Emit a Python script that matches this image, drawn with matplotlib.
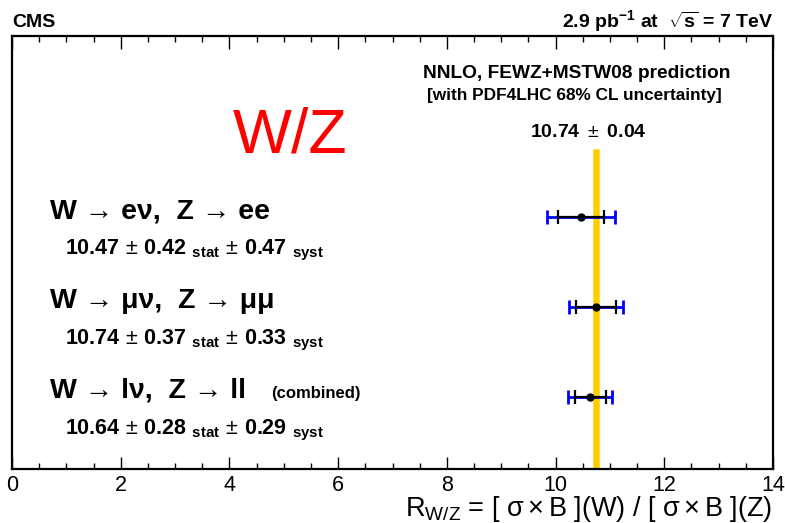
import numpy as np
import matplotlib
matplotlib.use("Agg")
import matplotlib.pyplot as plt

plt.rcParams['font.family'] = ['Liberation Sans', 'DejaVu Sans']
plt.rcParams['mathtext.fontset'] = 'custom'
plt.rcParams['mathtext.rm'] = 'Liberation Sans'
plt.rcParams['mathtext.bf'] = 'Liberation Sans:bold'
plt.rcParams['mathtext.it'] = 'Liberation Sans:italic'
plt.rcParams['mathtext.sf'] = 'Liberation Sans'

# Measured W/Z cross-section ratios per channel
channels = ["W \u2192 e\u03bd,  Z \u2192 ee",
            "W \u2192 \u03bc\u03bd,  Z \u2192 \u03bc\u03bc",
            "W \u2192 l\u03bd,  Z \u2192 ll"]
ratio = [10.47, 10.74, 10.64]
stat_err = [0.42, 0.37, 0.28]
syst_err = [0.47, 0.33, 0.29]
row_y = [2.8, 1.8, 0.8]

# NNLO prediction
theory = 10.74
theory_err = 0.04

xticks = [0, 2, 4, 6, 8, 10, 12, 14]

W, H = 785, 523
fig = plt.figure(figsize=(W / 100, H / 100), dpi=100)
ax = fig.add_axes([12 / W, 1 - 469 / H, 761 / W, 433 / H])
ax.set_xlim(0, 14)
ax.set_ylim(0, 433 / 90)

# theory band
ax.fill_betweenx([0, 3.55], theory - theory_err, theory + theory_err,
                 color='#ffcc00', lw=1.8, edgecolor='#ffcc00', zorder=1)

ratio = np.array(ratio)
stat_err = np.array(stat_err)
syst_err = np.array(syst_err)
tot_err = np.sqrt(stat_err ** 2 + syst_err ** 2)

ax.errorbar(ratio, row_y, xerr=tot_err, fmt='none', ecolor='#0000ff',
            elinewidth=2.0, capsize=4.8, capthick=2.0, zorder=2)
ax.errorbar(ratio, row_y, xerr=stat_err, fmt='o', color='black', ms=5,
            ecolor='black', elinewidth=1.6, capsize=4.8, capthick=1.6, zorder=3)

# axes styling
for s in ax.spines.values():
    s.set_linewidth(1.6)
ax.set_yticks([])
ax.set_xticks(xticks)
ax.set_xticks(np.arange(0, 14.01, 0.5), minor=True)
ax.tick_params(axis='x', which='both', direction='in', top=True, bottom=True,
               labelsize=15.5, pad=4)
ax.tick_params(axis='x', which='major', length=9, width=1.0)
ax.tick_params(axis='x', which='minor', length=4.5, width=1.0)
ax.set_xticklabels([str(v) for v in xticks])

def px(x, y):
    return x / W, 1 - y / H

fig.text(*px(12, 27), "CMS", fontsize=14, fontweight='bold', ha='left', va='baseline')
fig.text(*px(773, 27), r"2.9 pb$^{\mathbf{-1}}$ at  $\mathbf{\sqrt{s}}$ = 7 TeV",
         fontsize=14, fontweight='bold', ha='right', va='baseline')

fig.text(*px(772, 516),
         r"R$_{\mathrm{W/Z}}$ = [ $\mathrm{\sigma \times B}$ ](W) / [ $\mathrm{\sigma \times B}$ ](Z)",
         fontsize=19.5, ha='right', va='baseline')

fig.text(*px(577, 78), "NNLO, FEWZ+MSTW08 prediction", fontsize=13.8,
         fontweight='bold', ha='center', va='baseline')
fig.text(*px(574, 100), "[with PDF4LHC 68% CL uncertainty]", fontsize=12.4,
         fontweight='bold', ha='center', va='baseline')
fig.text(*px(588, 137), r"$\mathbf{%.2f}\ \pm\ \mathbf{%.2f}$" % (theory, theory_err),
         fontsize=14, ha='center', va='baseline')

fig.text(*px(233, 152), "W/Z", fontsize=45, color='red', ha='left', va='baseline')

label_base = [218, 308, 398]
num_base = [254, 344, 434]
for i in range(3):
    fig.text(*px(50, label_base[i]), channels[i], fontsize=20.5, fontweight='bold',
             ha='left', va='baseline')
    fig.text(*px(65, num_base[i]),
             r"$\mathbf{%.2f}\,\pm\,\mathbf{%.2f}\ _{\mathbf{stat}}\,\pm\,\mathbf{%.2f}\ _{\mathbf{syst}}$"
             % (ratio[i], stat_err[i], syst_err[i]),
             fontsize=15.5, ha='left', va='baseline')
fig.text(*px(271, 398), "(combined)", fontsize=12, fontweight='bold',
         ha='left', va='baseline')

fig.savefig("out.png", dpi=100)
